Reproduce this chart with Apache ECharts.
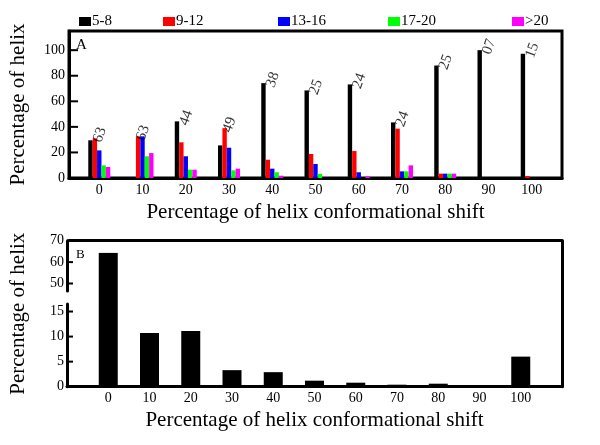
<!DOCTYPE html>
<html>
<head>
<meta charset="utf-8">
<script src="https://cdn.jsdelivr.net/npm/echarts@6/dist/echarts.min.js"></script>
<style>html,body{margin:0;padding:0;background:#fff;}#c{width:600px;height:445px;}</style>
</head>
<body>
<div id="c"></div>
<script>
// ---- data ----
const shiftCats = [0, 10, 20, 30, 40, 50, 60, 70, 80, 90, 100];
const seriesNames = ['5-8', '9-12', '13-16', '17-20', '>20'];
const len5to8   = [29.5, 0,    44.3, 25.5, 74.2, 68.5, 73.2, 43.5, 88,  100, 97.2];
const len9to12  = [31,   32.6, 27.9, 39,   14.3, 18.8, 21.1, 38.6, 3.4, 0,   1.5];
const len13to16 = [21.6, 32.6, 17,   23.7, 7.3,  11,   4.5,  5.2,  3.4, 0,   0];
const len17to20 = [9.9,  17,   6.5,  6,    4.5,  3.2,  0,    5.2,  3.4, 0,   0];
const lenOver20 = [8.6,  19.5, 6.5,  7.3,  1.8,  0,    1.2,  9.9,  3.4, 0,   0];
const counts    = ['63', '63', '44', '49', '38', '25', '24', '24', '25', '07', '15'];
const totalPct  = [64.3, 10.7, 11.1, 3.3, 2.9, 1.2, 0.8, 0.4, 0.6, 0, 6.0];
const topYTicks = [0, 20, 40, 60, 80, 100];
const lowYTicks = [0, 5, 10, 15];
const upYTicks  = [50, 60, 70];

const colors = ['#000000', '#ff0000', '#0000ff', '#00ff00', '#ff00ff'];
const groups = [len5to8, len9to12, len13to16, len17to20, lenOver20];
const FONT = '"Liberation Serif", "DejaVu Serif", serif';
const AXIS_TITLE = 'Percentage of helix conformational shift';
const Y_TITLE = 'Percentage of helix';
const TOP_X = [-7, 107];
const BOT_X = [-10, 110];

const chart = echarts.init(document.getElementById('c'));
const lineStyle = { color: '#000', width: 3 };
const axLine = { show: true, onZero: false, lineStyle };
const lblStyle = { color: '#000', fontFamily: FONT, fontSize: 14 };

const legendLefts = [79, 163, 278, 388, 512];
const legends = seriesNames.map((n, i) => ({
  data: [n], left: legendLefts[i], top: 14, padding: 0, itemWidth: 12, itemHeight: 9,
  icon: 'rect', itemGap: 0,
  textStyle: { color: '#000', fontFamily: FONT, fontSize: 15, padding: [0, 0, 0, -4] },
  selectedMode: false
}));

const groupMax = shiftCats.map((c, i) => Math.max(...groups.map(g => g[i])));

const option = {
  animation: false,
  backgroundColor: '#fff',
  legend: legends,
  title: [
    { text: 'A', left: 71, top: 33, textStyle: { fontFamily: FONT, fontSize: 15, fontWeight: 'normal', color: '#000' } },
    { text: 'B', left: 71, top: 243, textStyle: { fontFamily: FONT, fontSize: 13, fontWeight: 'normal', color: '#000' } }
  ],
  grid: [
    { left: 67, right: 38, top: 31, bottom: 267, show: true, borderColor: '#000', borderWidth: 3 },
    { left: 67, right: 38, top: 240.7, bottom: 154 },
    { left: 67, right: 38, top: 291, bottom: 141 },
    { left: 67, right: 38, top: 304, bottom: 58.3 },
    { left: 67, right: 38, top: 240.7, bottom: 58.3 }
  ],
  xAxis: [
    { gridIndex: 0, type: 'value', min: TOP_X[0], max: TOP_X[1],
      axisLine: axLine, axisTick: { show: false }, splitLine: { show: false },
      axisLabel: Object.assign({ customValues: shiftCats, margin: 5 }, lblStyle),
      name: AXIS_TITLE, nameLocation: 'middle', nameGap: 24,
      nameTextStyle: { fontFamily: FONT, fontSize: 21, color: '#000' } },
    { gridIndex: 1, type: 'value', min: BOT_X[0], max: BOT_X[1], show: false },
    { gridIndex: 2, type: 'value', min: BOT_X[0], max: BOT_X[1], show: false },
    { gridIndex: 3, type: 'value', min: BOT_X[0], max: BOT_X[1],
      axisLine: axLine, axisTick: { show: false }, splitLine: { show: false },
      axisLabel: Object.assign({ customValues: shiftCats, margin: 5 }, lblStyle),
      name: AXIS_TITLE, nameLocation: 'middle', nameGap: 23,
      nameTextStyle: { fontFamily: FONT, fontSize: 21, color: '#000' } },
    { gridIndex: 4, type: 'value', min: BOT_X[0], max: BOT_X[1], position: 'top',
      axisLine: axLine, axisTick: { show: false }, axisLabel: { show: false }, splitLine: { show: false } }
  ],
  yAxis: [
    { gridIndex: 0, type: 'value', min: 0, max: 115,
      axisLine: axLine, axisTick: { show: false }, splitLine: { show: false },
      axisLabel: Object.assign({ customValues: topYTicks, margin: 4 }, lblStyle),
      name: Y_TITLE, nameLocation: 'middle', nameGap: 40,
      nameTextStyle: { fontFamily: FONT, fontSize: 21, color: '#000' } },
    { gridIndex: 1, type: 'value', min: 46.5, max: 70,
      axisLine: axLine, axisTick: { show: false }, splitLine: { show: false },
      axisLabel: Object.assign({ customValues: upYTicks, margin: 3 }, lblStyle) },
    { gridIndex: 2, type: 'value', min: 16.5, max: 46.5, show: false },
    { gridIndex: 3, type: 'value', min: 0, max: 16.5,
      axisLine: axLine, axisTick: { show: false }, splitLine: { show: false },
      axisLabel: Object.assign({ customValues: lowYTicks, margin: 3 }, lblStyle) },
    { gridIndex: 4, type: 'value', min: 0, max: 1, position: 'right',
      axisLine: axLine, axisTick: { show: false }, axisLabel: { show: false }, splitLine: { show: false } },
    { gridIndex: 4, type: 'value', min: 0, max: 1, position: 'left',
      axisLine: { show: false }, axisTick: { show: false }, axisLabel: { show: false }, splitLine: { show: false },
      name: Y_TITLE, nameLocation: 'middle', nameGap: 40,
      nameTextStyle: { fontFamily: FONT, fontSize: 21, color: '#000' } }
  ],
  series: []
};

groups.forEach((g, k) => {
  option.series.push({
    name: seriesNames[k], type: 'bar', xAxisIndex: 0, yAxisIndex: 0,
    barWidth: 4.4, barGap: '0%',
    itemStyle: { color: colors[k] },
    data: shiftCats.map((c, i) => [c, g[i]])
  });
});
option.series.push({
  type: 'scatter', xAxisIndex: 0, yAxisIndex: 0, symbolSize: 0, silent: true,
  data: shiftCats.map((c, i) => [c, groupMax[i]]),
  label: {
    show: true, position: 'top', distance: 2, rotate: 70, align: 'left', verticalAlign: 'middle',
    offset: [-6, 0],
    formatter: p => counts[p.dataIndex],
    color: '#000', fontFamily: FONT, fontSize: 15
  }
});
[1, 2, 3].forEach(gi => {
  option.series.push({
    type: 'bar', xAxisIndex: gi, yAxisIndex: gi, barWidth: 19, clip: true,
    itemStyle: { color: '#000' },
    data: shiftCats.map((c, i) => [c, totalPct[i]])
  });
});

chart.setOption(option);

// inside tick marks, positioned through the axes' own scales
const tickSpecs = [
  { gridIndex: 0, xMin: TOP_X[0], values: topYTicks, len: 9 },
  { gridIndex: 1, xMin: BOT_X[0], values: upYTicks, len: 6 },
  { gridIndex: 3, xMin: BOT_X[0], values: lowYTicks, len: 6 }
];
const tickGraphics = [];
tickSpecs.forEach(spec => {
  spec.values.forEach(v => {
    const p = chart.convertToPixel({ gridIndex: spec.gridIndex }, [spec.xMin, v]);
    if (p && isFinite(p[0]) && isFinite(p[1])) {
      tickGraphics.push({
        type: 'line', z: 100, silent: true,
        shape: { x1: p[0], y1: p[1], x2: p[0] + spec.len, y2: p[1] },
        style: { stroke: '#000', lineWidth: 2 }
      });
    }
  });
});
chart.setOption({ graphic: tickGraphics });
</script>
</body>
</html>
